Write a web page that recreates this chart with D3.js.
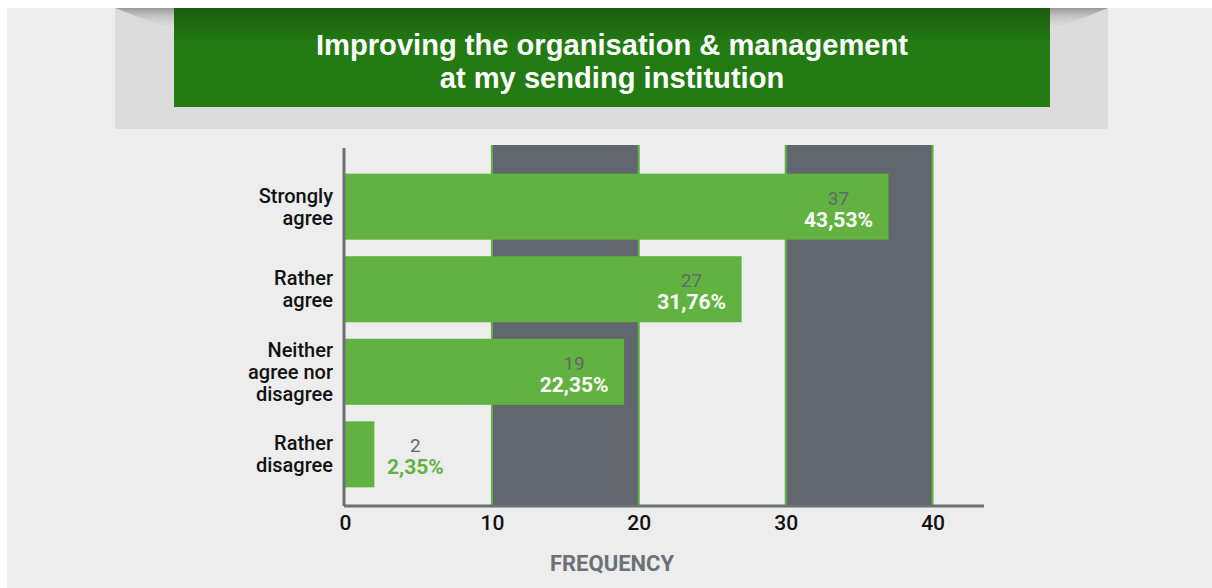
<!DOCTYPE html>
<html><head><meta charset="utf-8">
<script src="https://cdn.jsdelivr.net/npm/d3@7"></script>
<style>
html,body{margin:0;padding:0;background:#fff;}
svg{display:block;}
</style></head>
<body>
<svg id="chart" width="1212" height="588"></svg>
<script>
const title = ["Improving the organisation & management", "at my sending institution"];
const categories = ["Strongly agree", "Rather agree", "Neither agree nor disagree", "Rather disagree"];
const categoryLines = [["Strongly", "agree"], ["Rather", "agree"], ["Neither", "agree nor", "disagree"], ["Rather", "disagree"]];
const counts = [37, 27, 19, 2];
const percents = ["43,53%", "31,76%", "22,35%", "2,35%"];
const xTicks = [0, 10, 20, 30, 40];
const bands = [[10, 20], [30, 40]];
const axisTitle = "FREQUENCY";

const svg = d3.select("#chart");
const defs = svg.append("defs");
const g1 = defs.append("linearGradient").attr("id","grn").attr("x1",0).attr("y1",0).attr("x2",0).attr("y2",1);
g1.append("stop").attr("offset","0").attr("stop-color","#1b5c0f");
g1.append("stop").attr("offset","0.35").attr("stop-color","#237a13");
g1.append("stop").attr("offset","1").attr("stop-color","#237a13");
const sh = defs.append("linearGradient").attr("id","sh").attr("x1",0).attr("y1",0).attr("x2",0).attr("y2",1);
sh.append("stop").attr("offset","0").attr("stop-color","#9a9a9a");
sh.append("stop").attr("offset","1").attr("stop-color","#dcdcdc").attr("stop-opacity",0);

// background
svg.append("rect").attr("x",7).attr("y",8).attr("width",1205).attr("height",580).attr("fill","#ededed");
// header panel
svg.append("rect").attr("x",115).attr("y",8).attr("width",993).attr("height",121).attr("fill","#dcdcdc");
svg.append("path").attr("d","M115,8 L174,8 L174,30 Q140,18 115,8 Z").attr("fill","url(#sh)");
svg.append("path").attr("d","M1108,8 L1050,8 L1050,30 Q1084,18 1108,8 Z").attr("fill","url(#sh)");
svg.append("rect").attr("x",174).attr("y",8).attr("width",876).attr("height",99).attr("fill","url(#grn)");
const tt = svg.append("text").attr("x",612).attr("y",0).attr("text-anchor","middle")
  .attr("font-family","'Liberation Sans',Arial,sans-serif")
  .attr("font-weight","bold").attr("font-size",28).attr("fill","#fff");
tt.selectAll("tspan").data(title).join("tspan")
  .attr("x",612).attr("y",(d,i)=>55+i*33).text(d=>d);
// fit title width to the reference banner text width
const tw = tt.select("tspan").node().getComputedTextLength();
tt.attr("font-size", 28*592/tw);

const x = d3.scaleLinear().domain([0, 43.5]).range([345, 984]);
const y = d3.scaleBand().domain(categories).range([153, 508]).paddingInner(0.2).paddingOuter(0.25);
const plotTop = 145, plotBottom = 506;

// bands
svg.append("g").selectAll("rect").data(bands).join("rect")
  .attr("x", d=>x(d[0])).attr("width", d=>x(d[1])-x(d[0]))
  .attr("y", plotTop).attr("height", plotBottom-plotTop).attr("fill","#60676e");
// green grid lines
svg.append("g").selectAll("line").data(xTicks.filter(t=>t>0)).join("line")
  .attr("x1", d=>x(d)).attr("x2", d=>x(d)).attr("y1", plotTop).attr("y2", plotBottom)
  .attr("stroke","#62b242").attr("stroke-width",2);

// bars
svg.append("g").selectAll("rect").data(categories).join("rect")
  .attr("x", x(0)).attr("y", d=>y(d)).attr("height", y.bandwidth())
  .attr("width", (d,i)=>x(counts[i])-x(0)).attr("fill","#62b242");

// axes
const xAxis = d3.axisBottom(x).tickValues(xTicks).tickSize(0).tickPadding(9);
const ax = svg.append("g").attr("transform",`translate(0,${plotBottom})`).call(xAxis);
ax.select(".domain").attr("stroke","#6b7177").attr("stroke-width",3).attr("d",`M344,0H984`);
ax.selectAll("text").attr("font-family","Roboto, sans-serif").attr("font-weight",500)
  .attr("font-size",21).attr("fill","#111");
svg.append("line").attr("x1",344).attr("x2",344).attr("y1",148).attr("y2",plotBottom)
  .attr("stroke","#6b7177").attr("stroke-width",3);

// category labels
const cl = svg.append("g").selectAll("g").data(categories).join("g");
cl.each(function(d,i){
  const lines = categoryLines[i];
  const cy = y(d)+y.bandwidth()/2;
  const lh = 22;
  d3.select(this).selectAll("text").data(lines).join("text")
    .attr("text-anchor","end").attr("font-family","Roboto, sans-serif").attr("font-weight",500)
    .attr("font-size",20).attr("fill","#111")
    .attr("x",333).attr("y",(l,j)=>cy + (j-(lines.length-1)/2)*lh + 7).text(l=>l);
});

// value labels
categories.forEach((c,i)=>{
  const inside = counts[i] > 5;
  const end = x(counts[i]);
  const cx = inside ? end-50 : end+41;
  const cy = y(c)+y.bandwidth()/2;
  svg.append("text").attr("x",cx).attr("y",cy-2).attr("text-anchor","middle")
    .attr("font-family","Roboto, sans-serif").attr("font-size",19).attr("fill","#60676e").text(counts[i]);
  svg.append("text").attr("x",cx).attr("y",cy+20).attr("text-anchor","middle")
    .attr("font-family","Roboto, sans-serif").attr("font-weight","bold").attr("font-size",21)
    .attr("fill", inside ? "#fff" : "#62b242").text(percents[i]);
});

svg.append("text").attr("x",612).attr("y",571).attr("text-anchor","middle")
  .attr("font-family","Roboto, sans-serif").attr("font-weight","bold").attr("font-size",22)
  .attr("fill","#6b7177").text(axisTitle);
</script>
</body></html>
